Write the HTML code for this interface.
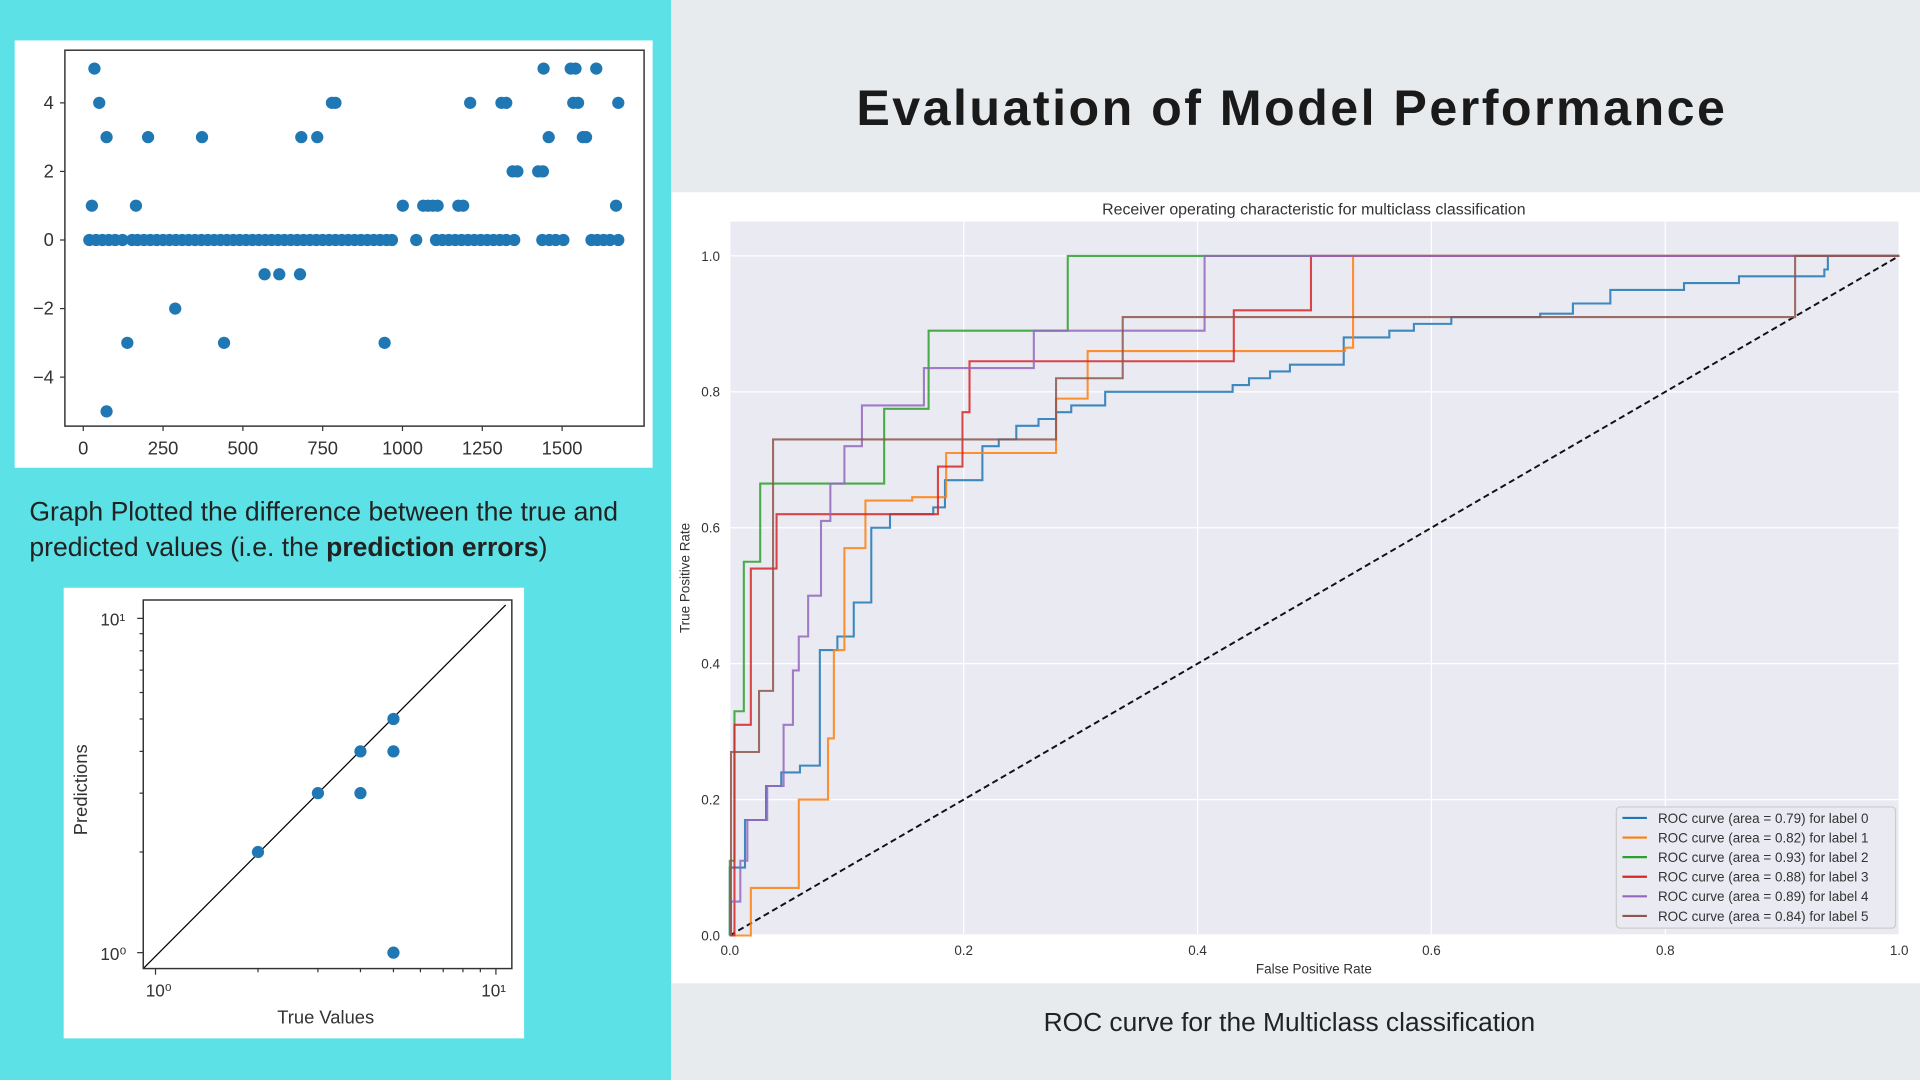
<!DOCTYPE html>
<html><head><meta charset="utf-8">
<style>
html,body{margin:0;padding:0;width:1920px;height:1080px;overflow:hidden;background:#e8ebed;}
#stage{position:absolute;left:0;top:0;width:1568px;height:882px;transform:scale(1.22449);transform-origin:0 0;font-family:"Liberation Sans",sans-serif;}
.abs{position:absolute;}
</style></head>
<body>
<div id="stage">
  <div class="abs" style="left:0;top:0;width:548px;height:882px;background:#5ce1e6"></div>
  <div class="abs" style="left:548px;top:0;width:1020px;height:882px;background:#e8ebed"></div>
  <div class="abs" style="left:560px;top:65px;width:990px;text-align:center;font-size:41px;font-weight:bold;color:#1a1a1a;letter-spacing:2px">Evaluation of Model Performance</div>
  <div class="abs" style="left:12px;top:33px;width:521px;height:349px;background:#fff"></div>
  <div class="abs" style="left:24px;top:403px;width:520px;font-size:21.7px;line-height:29px;color:#222">Graph Plotted the difference between the true and predicted values (i.e. the <b>prediction errors</b>)</div>
  <div class="abs" style="left:52px;top:480px;width:376px;height:368px;background:#fff"></div>
  <div class="abs" style="left:548px;top:157px;width:1020px;height:646px;background:#fff"></div>
  <div class="abs" style="left:548px;top:823px;width:1010px;text-align:center;font-size:21.5px;color:#222">ROC curve for the Multiclass classification</div>
  <svg id="svg" class="abs" style="left:0;top:0" width="1568" height="882" font-family="Liberation Sans, DejaVu Sans, sans-serif"></svg>
</div>
<script>
// ---- Error scatter data ----
const errX = [35,1442,1527,1542,1607, 50,779,790,1212,1310,1325,1535,1550,1676, 73,203,372,683,733,1458,1565,1575, 1345,1360,1425,1440, 27,165,1001,1065,1080,1095,1110,1175,1190,1669, 568,614,679, 288, 138,441,944, 73,
 19,40,60,80,100,123,153,170,190,210,230,250,270,290,310,330,350,370,390,410,430,450,470,490,510,530,550,570,590,610,630,650,670,690,710,730,750,770,790,810,830,850,870,890,910,930,950,967,1043,1105,1125,1145,1165,1185,1205,1225,1245,1265,1285,1305,1325,1350,1438,1460,1480,1504,1592,1610,1630,1650,1676];
const errY = [5,5,5,5,5, 4,4,4,4,4,4,4,4,4, 3,3,3,3,3,3,3,3, 2,2,2,2, 1,1,1,1,1,1,1,1,1,1, -1,-1,-1, -2, -3,-3,-3, -5,
 0,0,0,0,0,0,0,0,0,0,0,0,0,0,0,0,0,0,0,0,0,0,0,0,0,0,0,0,0,0,0,0,0,0,0,0,0,0,0,0,0,0,0,0,0,0,0,0,0,0,0,0,0,0,0,0,0,0,0,0,0,0,0,0,0,0,0,0,0,0,0];
const errXTicks = [0,250,500,750,1000,1250,1500];
const errYTicks = [-4,-2,0,2,4];
// ---- Predictions vs true ----
const trueVals = [2,3,4,4,5,5,5];
const predVals = [2,3,4,3,5,4,1];
// ---- ROC data ----
const rocLabels = ["ROC curve (area = 0.79) for label 0","ROC curve (area = 0.82) for label 1","ROC curve (area = 0.93) for label 2","ROC curve (area = 0.88) for label 3","ROC curve (area = 0.89) for label 4","ROC curve (area = 0.84) for label 5"];
const fpr0=[0,0,0.013,0.031,0.044,0.06,0.077,0.092,0.106,0.121,0.137,0.174,0.184,0.216,0.23,0.245,0.264,0.279,0.292,0.321,0.43,0.444,0.462,0.479,0.525,0.564,0.585,0.617,0.693,0.721,0.753,0.816,0.863,0.936,0.939,1];
const tpr0=[0,0.1,0.17,0.22,0.24,0.25,0.42,0.44,0.49,0.6,0.62,0.63,0.67,0.72,0.73,0.75,0.76,0.77,0.78,0.8,0.81,0.82,0.83,0.84,0.88,0.89,0.9,0.91,0.915,0.93,0.95,0.96,0.97,0.98,1,1];
const fpr1=[0,0.018,0.059,0.084,0.089,0.098,0.116,0.156,0.185,0.279,0.306,0.526,0.533,1];
const tpr1=[0,0.07,0.2,0.29,0.42,0.57,0.64,0.645,0.71,0.79,0.86,0.865,1,1];
const fpr2=[0,0,0.004,0.012,0.026,0.132,0.17,0.289,1];
const tpr2=[0,0.11,0.33,0.55,0.665,0.775,0.89,1,1];
const fpr3=[0,0.004,0.018,0.04,0.178,0.199,0.205,0.431,0.497,1];
const tpr3=[0,0.31,0.54,0.62,0.69,0.77,0.845,0.92,1,1];
const fpr4=[0,0.001,0.009,0.015,0.032,0.046,0.054,0.059,0.067,0.078,0.086,0.098,0.113,0.166,0.26,0.406,1];
const tpr4=[0,0.05,0.11,0.17,0.22,0.31,0.39,0.44,0.5,0.61,0.665,0.72,0.78,0.835,0.89,1,1];
const fpr5=[0,0.001,0.025,0.037,0.279,0.336,0.911,1];
const tpr5=[0,0.27,0.36,0.73,0.82,0.91,1,1];
const rocTicks=[0,0.2,0.4,0.6,0.8,1.0];

const NS="http://www.w3.org/2000/svg";
const svg=document.getElementById('svg');
function mk(tag,attrs,parent,text){const e=document.createElementNS(NS,tag);for(const k in attrs)e.setAttribute(k,attrs[k]);if(text!==undefined)e.textContent=text;(parent||svg).appendChild(e);return e;}

// Error scatter
const ex=v=>68+v*0.2607, ey=v=>196-v*28;
let g=mk('g',{});


for(let i=0;i<errX.length;i++){
  const c=mk('circle',{cx:ex(errX[i]),cy:ey(errY[i]),r:5,fill:'#1f77b4'},g);
  
  
}
let fr=mk('rect',{x:53,y:41,width:473,height:307,fill:'none',stroke:'#333','stroke-width':1.2});


errXTicks.forEach(t=>{mk('line',{x1:ex(t),x2:ex(t),y1:348,y2:352,stroke:'#333'});
  const l=mk('text',{x:ex(t),y:371,'font-size':15,'text-anchor':'middle',fill:'#333'},svg,String(t));
  
  });
errYTicks.forEach(t=>{mk('line',{x1:49,x2:53,y1:ey(t),y2:ey(t),stroke:'#333'});
  const l=mk('text',{x:44,y:ey(t)+5,'font-size':15,'text-anchor':'end',fill:'#333'},svg,t<0?'\u2212'+(-t):String(t));
  
  });

// Predictions plot (log-log)
const px=v=>127+Math.log10(v)*278, py=v=>778-Math.log10(v)*273;
mk('line',{x1:117,y1:791,x2:413,y2:494,stroke:'#000','stroke-width':1});
g=mk('g',{});


for(let i=0;i<trueVals.length;i++){
  const c=mk('circle',{cx:px(trueVals[i]),cy:py(predVals[i]),r:5,fill:'#1f77b4'},g);
  
  
}
fr=mk('rect',{x:117,y:490,width:301,height:301,fill:'none',stroke:'#333','stroke-width':1.2});


[2,3,4,5,6,7,8,9].forEach(v=>{mk('line',{x1:px(v),x2:px(v),y1:791,y2:794,stroke:'#333'});mk('line',{x1:114,x2:117,y1:py(v),y2:py(v),stroke:'#333'});});
[1,10].forEach(v=>{mk('line',{x1:px(v),x2:px(v),y1:791,y2:796,stroke:'#333'});mk('line',{x1:112,x2:117,y1:py(v),y2:py(v),stroke:'#333'});});
mk('text',{x:px(1)-8,y:814,'font-size':14,fill:'#333'},svg,'10\u2070');
mk('text',{x:px(10)-12,y:814,'font-size':14,fill:'#333'},svg,'10\u00b9');
mk('text',{x:82,y:py(1)+6,'font-size':14,fill:'#333'},svg,'10\u2070');
mk('text',{x:82,y:py(10)+6,'font-size':14,fill:'#333'},svg,'10\u00b9');
let t=mk('text',{x:266,y:836,'font-size':15,'text-anchor':'middle',fill:'#333'},svg,'True Values');

t=mk('text',{x:0,y:0,'font-size':15,'text-anchor':'middle',fill:'#333',transform:'translate(71,645) rotate(-90)'},svg,'Predictions');


// ROC
const rx=v=>596+v*955, ry=v=>764-v*555;
const bg=mk('rect',{x:596,y:181,width:955,height:582,fill:'#eaeaf2'});

rocTicks.forEach(v=>{
  mk('line',{x1:rx(v),x2:rx(v),y1:181,y2:763,stroke:'#fff','stroke-width':1});
  mk('line',{x1:596,x2:1551,y1:ry(v),y2:ry(v),stroke:'#fff','stroke-width':1});
  let a=mk('text',{x:rx(v),y:780,'font-size':11,'text-anchor':'middle',fill:'#333'},svg,v.toFixed(1));
  
  a=mk('text',{x:588,y:ry(v)+4,'font-size':11,'text-anchor':'end',fill:'#333'},svg,v.toFixed(1));
  
});
const colors=['#1f77b4','#ff7f0e','#2ca02c','#d62728','#9467bd','#8c564b'];
const fprs=[fpr0,fpr1,fpr2,fpr3,fpr4,fpr5], tprs=[tpr0,tpr1,tpr2,tpr3,tpr4,tpr5];
const dg=mk('line',{x1:rx(0),y1:ry(0),x2:rx(1),y2:ry(1),stroke:'#111','stroke-width':1.6,'stroke-dasharray':'5,3'});

for(let s=0;s<6;s++){
  const f=fprs[s],tp=tprs[s];let d='M'+rx(f[0])+','+ry(tp[0]);
  for(let i=1;i<f.length;i++){d+=' L'+rx(f[i])+','+ry(tp[i-1])+' L'+rx(f[i])+','+ry(tp[i]);}
  const p=mk('path',{d:d,fill:'none',stroke:colors[s],'stroke-width':1.7,'stroke-opacity':0.85});
  
  
}
t=mk('text',{x:1073,y:175,'font-size':13,'text-anchor':'middle',fill:'#333'},svg,'Receiver operating characteristic for multiclass classification');

t=mk('text',{x:1073,y:795,'font-size':11,'text-anchor':'middle',fill:'#333'},svg,'False Positive Rate');

t=mk('text',{x:0,y:0,'font-size':11,'text-anchor':'middle',fill:'#333',transform:'translate(563,472) rotate(-90)'},svg,'True Positive Rate');

const lg=mk('rect',{x:1320,y:659,width:228,height:99,rx:3,fill:'#eaeaf2',stroke:'#ccc'});

for(let s=0;s<6;s++){
  const y=668+s*16;
  mk('line',{x1:1325,x2:1345,y1:y,y2:y,stroke:colors[s],'stroke-width':1.8});
  const e=mk('text',{x:1354,y:y+4,'font-size':11,fill:'#333'},svg,rocLabels[s]);
  
  
}
</script>
</body></html>
